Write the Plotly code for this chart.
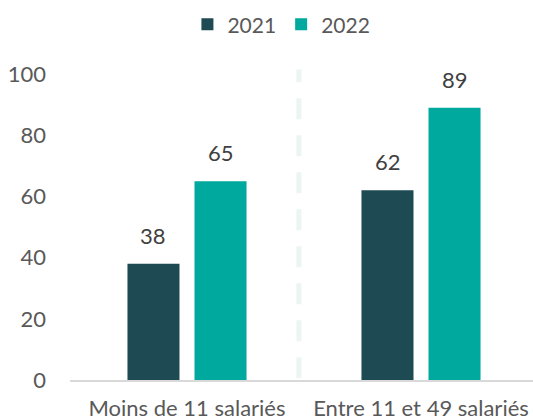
import plotly.graph_objects as go

categories = ["Moins de 11 salariés", "Entre 11 et 49 salariés"]
series_names = ["2021", "2022"]
values_2021 = [38, 62]
values_2022 = [65, 89]
y_ticks = [0, 20, 40, 60, 80, 100]

colors = {"2021": "#1E4A53", "2022": "#00A99D"}
font_family = "Lato, 'Open Sans', sans-serif"

x_pos = list(range(len(categories)))

fig = go.Figure()
for name, vals in zip(series_names, [values_2021, values_2022]):
    fig.add_trace(go.Bar(
        x=x_pos, y=vals, name=name,
        marker=dict(color=colors[name], line=dict(width=0)),
        hoverinfo="skip",
    ))

# value labels above each bar
bar_offset = 0.1432
for i, vals in enumerate([values_2021, values_2022]):
    sign = -1 if i == 0 else 1
    for xi, v in zip(x_pos, vals):
        fig.add_annotation(
            x=xi + sign * bar_offset, y=v, text=str(v),
            showarrow=False, yanchor="bottom", yshift=13,
            font=dict(family=font_family, size=22, color="#404040"),
        )

# dashed separator between the two groups
fig.add_shape(
    type="line", xref="x", yref="y",
    x0=0.478, x1=0.478, y0=-11.5, y1=101.5,
    line=dict(color="#EDF4F4", width=5, dash="21px,16px"),
    layer="below",
)

fig.update_layout(
    width=533, height=420,
    margin=dict(l=70, r=0, t=60, b=40),
    paper_bgcolor="white", plot_bgcolor="white",
    barmode="group", bargap=0.427, bargroupgap=0.224,
    font=dict(family=font_family, size=22, color="#595959"),
    legend=dict(
        orientation="h", x=0.528, xanchor="center", xref="container",
        y=0.99, yanchor="top", yref="container",
        font=dict(size=21, color="#595959"),
        itemwidth=30, traceorder="normal",
    ),
    showlegend=True,
)

fig.update_xaxes(
    tickvals=x_pos, ticktext=categories,
    range=[-0.5, 1.4786],
    showgrid=False, zeroline=False, automargin=False,
    showline=True, linecolor="#D9D9D9", linewidth=1.5,
    ticks="", ticklabelstandoff=8,
    tickfont=dict(size=22, color="#595959"),
)
fig.update_yaxes(
    tickvals=y_ticks, range=[0, 104.6],
    showgrid=False, zeroline=False, showline=False, automargin=False,
    ticks="", ticklabelstandoff=23,
    tickfont=dict(size=22, color="#595959"),
)

fig.write_html("out.html")
